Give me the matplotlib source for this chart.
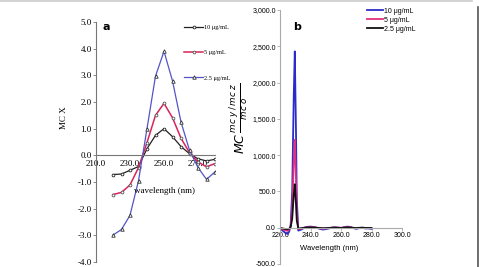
import numpy
import matplotlib
matplotlib.use("Agg")
from matplotlib import pyplot
from matplotlib.lines import Line2D

# panel a
wl_a = [220, 225, 230, 235, 240, 245, 250, 255, 260, 265, 270, 275, 280]
mc_10 = [-0.72, -0.70, -0.56, -0.42, 0.25, 0.75, 1.00, 0.70, 0.33, 0.06, -0.13, -0.21, -0.15]
mc_5 = [-1.47, -1.39, -1.11, -0.46, 0.48, 1.50, 1.95, 1.41, 0.64, 0.10, -0.25, -0.43, -0.31]
mc_25 = [-2.99, -2.78, -2.25, -0.95, 1.00, 2.97, 3.90, 2.79, 1.25, 0.19, -0.46, -0.90, -0.62]
labels_a = ["10 \u03bcg/mL", "5 \u03bcg/mL", "2.5 \u03bcg/mL"]

# panel b
wl_b = [220, 222, 224, 225, 226, 227, 228, 229, 229.7, 230.5, 231, 232, 234, 236, 238, 240,
        242, 244, 246, 248, 250, 252, 254, 256, 258, 260, 262, 264, 266, 268, 270, 272,
        274, 276, 278, 280]
b_10 = [-10, -45, -80, -85, -55, 40, 500, 1800, 2430, 1300, 400, -40, -25, 0, 12, 15,
        10, 0, -15, -25, -20, -10, 0, 5, 0, -5, 5, 15, 10, -5, -15, -5, 0, -10, -10, -15]
b_5 = [v / 2.0 for v in b_10]
b_25 = [v / 4.0 for v in b_10]
b_5[8] = 1210
b_25[8] = 600
labels_b = ["10 \u03bcg/mL", "5 \u03bcg/mL", "2.5 \u03bcg/mL"]

SERIF = "Liberation Serif"
SANS = "Liberation Sans"

fig = pyplot.figure(figsize=(4.79, 2.67), dpi=100)

# frame around the image (top and right edge)
fig.add_artist(Line2D([0, 0.985], [0.998, 0.998], color="#cccccc", lw=1.2, transform=fig.transFigure))
fig.add_artist(Line2D([0.998, 0.998], [0, 0.975], color="#555555", lw=1.2, transform=fig.transFigure))

# ---- a ----
ax = fig.add_axes([96/479., 5/267., 119/479., 240/267.])
ax.spines["bottom"].set_position(("data", 0))
ax.plot(wl_a, mc_10, color="#222222", lw=0.9, marker="o", ms=2, mfc="white", mew=0.6, label=labels_a[0])
ax.plot(wl_a, mc_5, color="#d8245a", lw=1.1, marker="o", ms=2, mfc="white", mec="#555555", mew=0.6, label=labels_a[1])
ax.plot(wl_a, mc_25, color="#5454c8", lw=0.9, marker="^", ms=2.5, mfc="white", mec="#333333", mew=0.6, label=labels_a[2])
ax.set_xlim(210, 280)
ax.set_ylim(-4, 5)
ax.set_yticks(numpy.arange(-4, 5.1, 1))
ax.set_yticklabels(["%.1f" % v for v in numpy.arange(-4, 5.1, 1)], fontsize=6.5, family=SERIF)
ax.set_xticks([210, 230, 250, 270])
ax.set_xticklabels(["210.0", "230.0", "250.0", "270.0"], fontsize=6.5, family=SERIF)
ax.spines["bottom"].set_color("#777777")
ax.spines["left"].set_color("#777777")
ax.spines["top"].set_visible(False)
ax.spines["right"].set_visible(False)
ax.tick_params(axis="both", length=2, width=0.6, pad=1, color="#777777")
ax.tick_params(axis="x", length=0, pad=3.5)
ax.set_ylabel("MC X", fontsize=6.5, family=SERIF)
ax.yaxis.set_label_coords(-0.235, 0.6)
ax.text(250.5, -1.35, "wavelength (nm)", fontsize=6.5, family=SERIF, ha="center", va="center")
ax.text(214, 4.8, "a", fontsize=8, fontweight="bold", ha="left", va="center")
ax.legend(loc="upper left", bbox_to_anchor=(0.72, 1.0), frameon=False,
          prop={"family": SERIF, "size": 4.5}, labelspacing=3.2, handlelength=3, handletextpad=0.2,
          borderaxespad=0)

# ---- b ----
bx = fig.add_axes([280/479., 3/267., 122/479., 254/267.])
bx.spines["bottom"].set_position(("data", 0))
bx.plot(wl_b, b_10, color="#2b2bcc", lw=1.3, label=labels_b[0])
bx.plot(wl_b, b_5, color="#e0307f", lw=1.3, label=labels_b[1])
bx.plot(wl_b, b_25, color="#111111", lw=1.3, label=labels_b[2])
bx.set_xlim(220, 300)
bx.set_ylim(-500, 3000)
yt = numpy.arange(-500, 3001, 500)
bx.set_yticks(yt)
bx.set_yticklabels(["{:,.1f}".format(v) for v in yt], fontsize=5, family=SANS)
bx.set_xticks([220, 240, 260, 280, 300])
bx.set_xticklabels(["220.0", "240.0", "260.0", "280.0", "300.0"], fontsize=5, family=SANS)
bx.spines["bottom"].set_color("#aaaaaa")
bx.spines["left"].set_color("#aaaaaa")
bx.spines["top"].set_visible(False)
bx.spines["right"].set_visible(False)
bx.tick_params(axis="both", length=2, width=0.6, pad=1, color="#aaaaaa")
bx.set_ylabel(r"$MC\,\frac{mc\ y\,/\,mc\ z}{mc\ o}$", fontsize=9, family=SERIF)
bx.yaxis.set_label_coords(-0.24, 0.575)
bx.text(252, -290, "Wavelength (nm)", fontsize=5.5, family=SANS, ha="center", va="center")
bx.text(228.5, 2765, "b", fontsize=8, fontweight="bold", ha="left", va="center")
bx.legend(loc="upper left", bbox_to_anchor=(0.69, 1.02), frameon=False, prop={"family": SANS, "size": 5},
          labelspacing=0.3, handlelength=2.3, handletextpad=0.2, borderaxespad=0)

fig.savefig("out.png", dpi=100)
